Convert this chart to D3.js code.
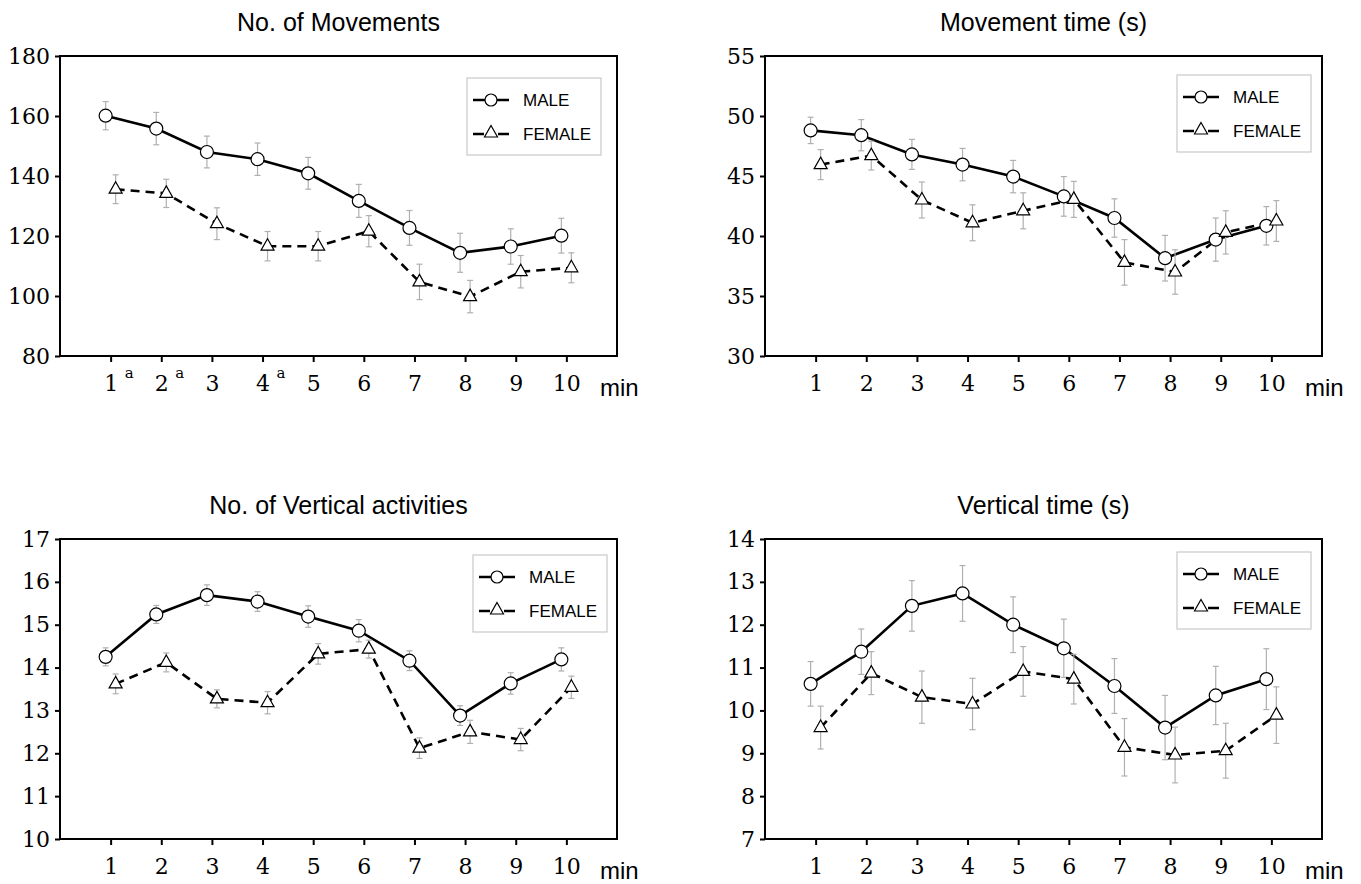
<!DOCTYPE html>
<html>
    <head>
        <title>Movements by minute</title>
        <meta charset="UTF-8">
        <script src="https://cdn.jsdelivr.net/npm/d3@7"></script>
        <style>
            body { margin: 0; background: #fff; }
            .num { font-family: "DejaVu Serif", "Liberation Serif", serif; }
            .lbl { font-family: "Liberation Sans", Arial, sans-serif; }
        </style>
    </head>
    <body>
        <script type="text/javascript">
            // minutes on the x axis
            var minutes = [1, 2, 3, 4, 5, 6, 7, 8, 9, 10];

            // No. of Movements
            var movMale      = [160.1, 155.8, 148.0, 145.6, 140.9, 131.7, 122.7, 114.4, 116.5, 120.1];
            var movMaleErr   = [4.7, 5.4, 5.3, 5.4, 5.3, 5.5, 5.8, 6.5, 5.9, 5.8];
            var movFemale    = [135.6, 134.2, 124.1, 116.6, 116.6, 121.6, 104.7, 99.8, 108.1, 109.4];
            var movFemaleErr = [4.8, 4.7, 5.3, 4.9, 4.9, 5.2, 5.9, 5.4, 5.4, 5.0];

            // Movement time (s)
            var mtMale      = [48.8, 48.4, 46.8, 45.95, 44.95, 43.3, 41.5, 38.15, 39.7, 40.85];
            var mtMaleErr   = [1.1, 1.3, 1.25, 1.35, 1.35, 1.65, 1.6, 1.9, 1.8, 1.6];
            var mtFemale    = [45.95, 46.7, 43.0, 41.1, 42.1, 43.05, 37.8, 37.0, 40.3, 41.25];
            var mtFemaleErr = [1.25, 1.2, 1.5, 1.5, 1.5, 1.5, 1.9, 1.85, 1.8, 1.7];

            // No. of Vertical activities
            var vaMale      = [14.25, 15.24, 15.69, 15.54, 15.19, 14.86, 14.16, 12.88, 13.63, 14.19];
            var vaMaleErr   = [0.21, 0.21, 0.24, 0.23, 0.25, 0.26, 0.23, 0.23, 0.25, 0.27];
            var vaFemale    = [13.62, 14.12, 13.27, 13.18, 14.32, 14.43, 12.12, 12.5, 12.32, 13.54];
            var vaFemaleErr = [0.23, 0.22, 0.21, 0.26, 0.24, 0.21, 0.24, 0.27, 0.26, 0.26];

            // Vertical time (s)
            var vtMale      = [10.62, 11.37, 12.44, 12.73, 12.0, 11.45, 10.57, 9.6, 10.35, 10.73];
            var vtMaleErr   = [0.52, 0.53, 0.59, 0.65, 0.65, 0.68, 0.64, 0.75, 0.68, 0.71];
            var vtFemale    = [9.6, 10.87, 10.31, 10.15, 10.91, 10.73, 9.14, 8.96, 9.06, 9.89];
            var vtFemaleErr = [0.5, 0.5, 0.61, 0.6, 0.58, 0.58, 0.67, 0.65, 0.64, 0.66];

            // y axis ranges and tick labels
            var movTicks = [80, 100, 120, 140, 160, 180];
            var mtTicks  = [30, 35, 40, 45, 50, 55];
            var vaTicks  = [10, 11, 12, 13, 14, 15, 16, 17];
            var vtTicks  = [7, 8, 9, 10, 11, 12, 13, 14];

            // minutes marked with a superscript "a" in the first panel
            var movMarked = [1, 2, 4];

            var seriesNames = ["MALE", "FEMALE"];

            var panels = [
                {title: "No. of Movements", ticks: movTicks, male: movMale, maleErr: movMaleErr,
                    female: movFemale, femaleErr: movFemaleErr, marked: movMarked,
                    x: 60, y: 56, leg: [407, 22]},
                {title: "Movement time (s)", ticks: mtTicks, male: mtMale, maleErr: mtMaleErr,
                    female: mtFemale, femaleErr: mtFemaleErr, marked: [],
                    x: 765, y: 56, leg: [412, 19]},
                {title: "No. of Vertical activities", ticks: vaTicks, male: vaMale, maleErr: vaMaleErr,
                    female: vaFemale, femaleErr: vaFemaleErr, marked: [],
                    x: 60, y: 539, leg: [413, 16]},
                {title: "Vertical time (s)", ticks: vtTicks, male: vtMale, maleErr: vtMaleErr,
                    female: vtFemale, femaleErr: vtFemaleErr, marked: [],
                    x: 765, y: 539, leg: [412, 13]}
            ];

            var w = 1361, h = 884;
            var pw = 557, ph = 300;
            var shift = 5;   // male / female markers sit either side of the tick

            var svg = d3.select("body").append("svg")
                    .attr("width", w)
                    .attr("height", h);

            var triangle = "M0,-7.5L6.5,4L-6.5,4Z";

            panels.forEach(function(p) {
                var g = svg.append("g").attr("transform", "translate(" + p.x + "," + p.y + ")");

                var x = d3.scaleLinear().domain([0, 11]).range([0, pw]);
                var y = d3.scaleLinear()
                        .domain([p.ticks[0], p.ticks[p.ticks.length - 1]])
                        .range([ph, 0]);

                // title
                g.append("text")
                        .attr("class", "lbl")
                        .attr("x", pw / 2)
                        .attr("y", -25)
                        .attr("text-anchor", "middle")
                        .style("font-size", "25px")
                        .text(p.title);

                // y axis
                var yAxis = d3.axisLeft(y).tickValues(p.ticks).tickFormat(d3.format("d"))
                        .tickSize(5).tickPadding(5);
                var ya = g.append("g").attr("font-family", null).attr("font-size", null).call(yAxis);
                ya.attr("font-family", null).attr("font-size", null);
                ya.select(".domain").remove();
                ya.selectAll("line").attr("stroke-width", 2);
                ya.selectAll("text")
                        .attr("class", "num")
                        .style("font-size", "22px")
                        .attr("fill", "#000");

                // x axis
                var xAxis = d3.axisBottom(x).tickValues(minutes).tickFormat(d3.format("d"))
                        .tickSize(6).tickPadding(13);
                var xa = g.append("g").attr("transform", "translate(0," + ph + ")").call(xAxis);
                xa.attr("font-family", null).attr("font-size", null);
                xa.select(".domain").remove();
                xa.selectAll("line").attr("stroke-width", 2);
                xa.selectAll("text")
                        .attr("class", "num")
                        .style("font-size", "22px")
                        .attr("fill", "#000");

                xa.selectAll(".tick")
                        .filter(function(d) { return p.marked.indexOf(d) >= 0; })
                        .append("text")
                        .attr("class", "num")
                        .attr("x", 18)
                        .attr("y", 22)
                        .attr("fill", "#000")
                        .style("font-size", "15px")
                        .text("a");

                g.append("text")
                        .attr("class", "lbl")
                        .attr("x", pw - 17)
                        .attr("y", ph + 40)
                        .style("font-size", "24px")
                        .text("min");

                // frame
                g.append("rect")
                        .attr("width", pw)
                        .attr("height", ph)
                        .attr("fill", "none")
                        .attr("stroke", "#000")
                        .attr("stroke-width", 2);

                var series = [
                    {vals: p.male, err: p.maleErr, dx: -shift, dash: null, mark: "circle"},
                    {vals: p.female, err: p.femaleErr, dx: shift, dash: "9,6", mark: "tri"}
                ];

                series.forEach(function(s) {
                    var pts = minutes.map(function(m, i) {
                        return {m: m, v: s.vals[i], e: s.err[i]};
                    });

                    // error bars
                    var eb = g.append("g")
                            .attr("stroke", "#b0b0b0")
                            .attr("stroke-width", 1.2);
                    eb.selectAll(".bar").data(pts).enter().append("line")
                            .attr("x1", function(d) { return x(d.m) + s.dx; })
                            .attr("x2", function(d) { return x(d.m) + s.dx; })
                            .attr("y1", function(d) { return y(d.v - d.e); })
                            .attr("y2", function(d) { return y(d.v + d.e); });
                    eb.selectAll(".capT").data(pts).enter().append("line")
                            .attr("x1", function(d) { return x(d.m) + s.dx - 3; })
                            .attr("x2", function(d) { return x(d.m) + s.dx + 3; })
                            .attr("y1", function(d) { return y(d.v + d.e); })
                            .attr("y2", function(d) { return y(d.v + d.e); });
                    eb.selectAll(".capB").data(pts).enter().append("line")
                            .attr("x1", function(d) { return x(d.m) + s.dx - 3; })
                            .attr("x2", function(d) { return x(d.m) + s.dx + 3; })
                            .attr("y1", function(d) { return y(d.v - d.e); })
                            .attr("y2", function(d) { return y(d.v - d.e); });

                    var line = d3.line()
                            .x(function(d) { return x(d.m) + s.dx; })
                            .y(function(d) { return y(d.v); });

                    g.append("path")
                            .datum(pts)
                            .attr("d", line)
                            .attr("fill", "none")
                            .attr("stroke", "#000")
                            .attr("stroke-width", 2.6)
                            .attr("stroke-dasharray", s.dash);
                });

                // markers on top of both lines
                series.forEach(function(s) {
                    var pts = minutes.map(function(m, i) { return {m: m, v: s.vals[i]}; });
                    if (s.mark === "circle") {
                        g.selectAll(".mc").data(pts).enter().append("circle")
                                .attr("cx", function(d) { return x(d.m) + s.dx; })
                                .attr("cy", function(d) { return y(d.v); })
                                .attr("r", 6.5)
                                .attr("fill", "#fff")
                                .attr("stroke", "#000")
                                .attr("stroke-width", 1.2);
                    } else {
                        g.selectAll(".mt").data(pts).enter().append("path")
                                .attr("d", triangle)
                                .attr("transform", function(d) {
                                    return "translate(" + (x(d.m) + s.dx) + "," + y(d.v) + ")";
                                })
                                .attr("fill", "#fff")
                                .attr("stroke", "#000")
                                .attr("stroke-width", 1.2);
                    }
                });

                // legend
                var lg = g.append("g").attr("transform", "translate(" + p.leg[0] + "," + p.leg[1] + ")");
                lg.append("rect")
                        .attr("width", 134)
                        .attr("height", 77)
                        .attr("fill", "#fff")
                        .attr("stroke", "#c8c8c8")
                        .attr("stroke-width", 1.2);
                seriesNames.forEach(function(name, i) {
                    var ly = 22 + i * 34;
                    lg.append("line")
                            .attr("x1", 6).attr("x2", 42)
                            .attr("y1", ly).attr("y2", ly)
                            .attr("stroke", "#000")
                            .attr("stroke-width", 2.4)
                            .attr("stroke-dasharray", i === 0 ? null : "11,14");
                    if (i === 0) {
                        lg.append("circle")
                                .attr("cx", 24).attr("cy", ly).attr("r", 6)
                                .attr("fill", "#fff").attr("stroke", "#000").attr("stroke-width", 1.2);
                    } else {
                        lg.append("path")
                                .attr("d", triangle)
                                .attr("transform", "translate(24," + (ly - 1) + ")")
                                .attr("fill", "#fff").attr("stroke", "#000").attr("stroke-width", 1.2);
                    }
                    lg.append("text")
                            .attr("class", "lbl")
                            .attr("x", 56)
                            .attr("y", ly + 6)
                            .style("font-size", "17px")
                            .text(name);
                });
            });
        </script>
    </body>
</html>
